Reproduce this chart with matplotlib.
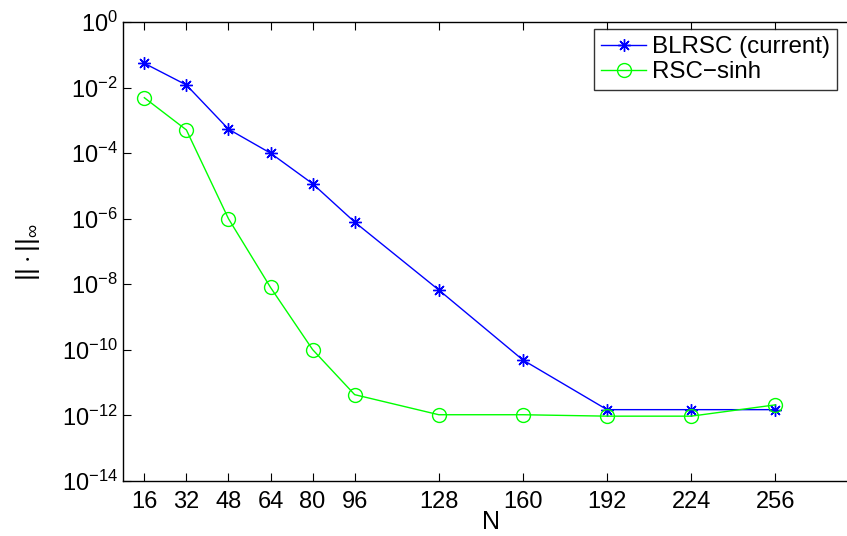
import matplotlib
matplotlib.use("Agg")
from matplotlib import pyplot as plt
from matplotlib.ticker import FixedLocator, NullLocator

plt.rcParams["font.family"] = ["Liberation Sans", "DejaVu Sans"]
plt.rcParams["mathtext.fontset"] = "custom"
plt.rcParams["mathtext.rm"] = "Liberation Sans"
plt.rcParams["mathtext.it"] = "Liberation Sans:italic"

# data
N = [16, 32, 48, 64, 80, 96, 128, 160, 192, 224, 256]
blrsc = [5.5e-2, 1.2e-2, 5.4e-4, 1.0e-4, 1.17e-5, 7.9e-7, 6.7e-9, 4.9e-11,
         1.5e-12, 1.5e-12, 1.5e-12]
rsc_sinh = [4.9e-3, 5.1e-4, 1.0e-6, 8.0e-9, 1.02e-10, 4.3e-12, 1.05e-12,
            1.05e-12, 9.5e-13, 9.5e-13, 2.1e-12]
xticks = [16, 32, 48, 64, 80, 96, 128, 160, 192, 224, 256]
yticks = [1e0, 1e-2, 1e-4, 1e-6, 1e-8, 1e-10, 1e-12, 1e-14]

fig = plt.figure(figsize=(8.47, 5.36), dpi=100)
# right edge of the axes box falls outside the picture, as in the reference
ax = fig.add_axes([123.3 / 847, 1 - 481 / 536, (859.5 - 123.3) / 847, (481 - 22) / 536])

ax.plot(N, blrsc, color="#0000ff", marker=(8, 2, 0), markersize=9, markeredgewidth=1,
        linewidth=1, label="BLRSC (current)")
ax.plot(N, rsc_sinh, color="#00ff00", marker="o", markersize=10,
        markerfacecolor="none", linewidth=1, label="RSC\u2212sinh")

ax.set_yscale("log")
ax.set_xlim(8, 288)
ax.set_ylim(1e-14, 1e0)
ax.set_xticks(xticks)
ax.yaxis.set_major_locator(FixedLocator(yticks))
ax.yaxis.set_minor_locator(NullLocator())
ax.tick_params(which="both", direction="in", length=6, labelsize=17,
               top=True, right=True, width=0.8)
ax.tick_params(axis="x", pad=7)
ax.tick_params(axis="y", pad=4)
for s in ax.spines.values():
    s.set_linewidth(1.0)

ax.set_xlabel("N", fontsize=18, labelpad=-2)
ax.set_ylabel(r"$||\cdot||_\infty$", fontsize=19, labelpad=14)

leg = ax.legend(loc="upper left", fontsize=17.4, frameon=True, fancybox=False,
                edgecolor="black", borderaxespad=0, handlelength=1.85, borderpad=0.3,
                labelspacing=0.12, handletextpad=0.25)
leg.set_bbox_to_anchor((594 / 847, 1 - 29 / 536), transform=fig.transFigure)
leg.get_frame().set_linewidth(1.0)

fig.savefig("out.png", dpi=100)
